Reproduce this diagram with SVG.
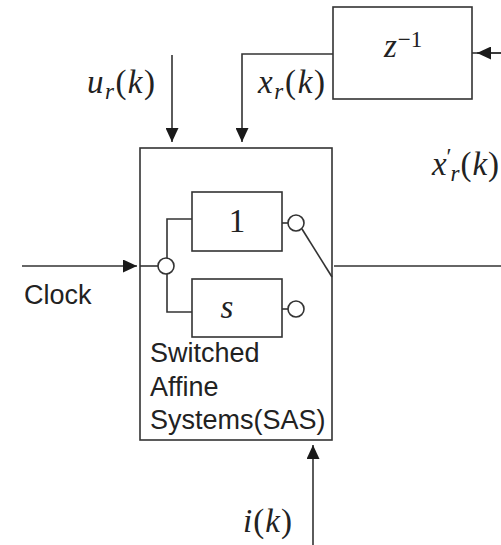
<svg xmlns="http://www.w3.org/2000/svg" width="501" height="545" viewBox="0 0 501 545">
<style>
.ln{stroke:#333;stroke-width:1.6;fill:none}
.bx{stroke:#333;stroke-width:1.6;fill:#fff}
.c{stroke:#333;stroke-width:1.6;fill:#fff}
.m{font-family:"Liberation Serif",serif;font-size:33px;fill:#222}
.i{font-style:italic}
.sub{font-size:23px}
.s{font-family:"Liberation Sans",sans-serif;font-size:27px;fill:#222}
</style>
<defs>
<marker id="ah" markerWidth="14" markerHeight="13" refX="14" refY="6.5" orient="auto" markerUnits="userSpaceOnUse">
<path d="M0,0 L14,6.5 L0,13 Z" fill="#1a1a1a"/>
</marker>
</defs>
<rect width="501" height="545" fill="#fff"/>
<g id="connectors">
<line class="ln" x1="501" y1="53" x2="472" y2="53"/>
<line class="ln" x1="501" y1="53" x2="477" y2="53" marker-end="url(#ah)"/>
<line class="ln" x1="172" y1="55" x2="172" y2="142" marker-end="url(#ah)"/>
<polyline class="ln" points="333,54 242,54 242,142" marker-end="url(#ah)"/>
<line class="ln" x1="22" y1="266" x2="137" y2="266" marker-end="url(#ah)"/>
<line class="ln" x1="334" y1="266" x2="501" y2="266"/>
<line class="ln" x1="313" y1="545" x2="313" y2="445" marker-end="url(#ah)"/>
</g>
<g id="delay">
<rect class="bx" x="333" y="7" width="139" height="92"/>
<text class="m" x="384" y="57"><tspan class="i">z</tspan><tspan class="sub" dx="1" dy="-10">−1</tspan></text>
</g>
<g id="sas">
<rect class="bx" x="140" y="148" width="192" height="292"/>
<text class="s" x="150" y="362">Switched</text>
<text class="s" x="150" y="396">Affine</text>
<text class="s" x="150" y="429">Systems(SAS)</text>
</g>
<g id="internal">
<line class="ln" x1="140" y1="266" x2="158" y2="266"/>
<polyline class="ln" points="192,219 167,219 167,312 192,312"/>
<circle class="c" cx="166" cy="266" r="8"/>
<line class="ln" x1="282" y1="223" x2="288" y2="223"/>
<line class="ln" x1="282" y1="309" x2="288" y2="309"/>
<line class="ln" x1="302" y1="229" x2="332" y2="277"/>
</g>
<g id="mode1">
<rect class="bx" x="192" y="192" width="90" height="59"/>
<text class="m" x="237" y="232" text-anchor="middle">1</text>
<circle class="c" cx="296" cy="223" r="8"/>
</g>
<g id="modes">
<rect class="bx" x="192" y="279" width="90" height="58"/>
<text class="m i" x="227" y="318" text-anchor="middle">s</text>
<circle class="c" cx="296" cy="309" r="8"/>
</g>
<g id="labels">
<text class="m" x="87" y="93" textLength="68" lengthAdjust="spacing"><tspan class="i">u</tspan><tspan class="i sub" dy="6">r</tspan><tspan dy="-6">(</tspan><tspan class="i">k</tspan>)</text>
<text class="m" x="258" y="93" textLength="67" lengthAdjust="spacing"><tspan class="i">x</tspan><tspan class="i sub" dy="6">r</tspan><tspan dy="-6">(</tspan><tspan class="i">k</tspan>)</text>
<text class="m" x="432" y="175" textLength="67" lengthAdjust="spacing"><tspan class="i">x</tspan><tspan class="sub" dx="-1" dy="-11">′</tspan><tspan class="i sub" dx="-2" dy="17">r</tspan><tspan dy="-6">(</tspan><tspan class="i">k</tspan>)</text>
<text class="s" x="24" y="304">Clock</text>
<text class="m" x="243" y="532" textLength="49" lengthAdjust="spacing"><tspan class="i">i</tspan>(<tspan class="i">k</tspan>)</text>
</g>
</svg>
